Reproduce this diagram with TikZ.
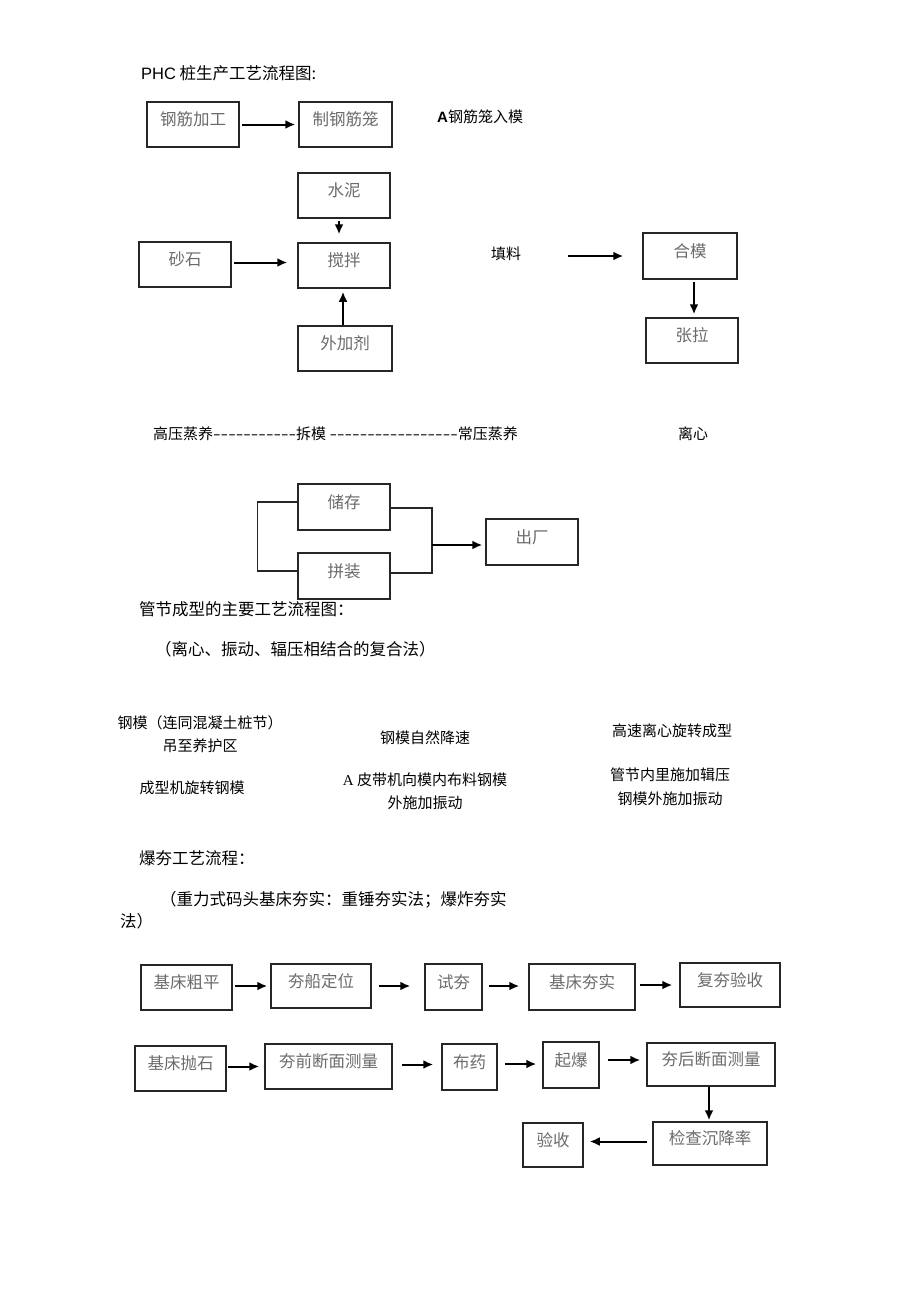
\documentclass[tikz,border=0pt]{standalone}
\usepackage{graphicx}
\usepackage{fontspec}
\setmainfont{Noto Sans CJK SC}
\newfontfamily\arialfont{Liberation Sans}
\newfontfamily\timesfont{Liberation Serif}
\newfontfamily\dashfont{Noto Sans CJK SC}[Ligatures=TeXOff]
\usepackage{tikz}
\usetikzlibrary{
    calc,
    arrows.meta,
    positioning
}
\newcommand\hdfont{\fontsize{16.5}{22}\selectfont}
\newcommand\notefont{\fontsize{15}{23.5}\selectfont}
\newcommand\boxfont{\fontsize{16.5}{16.5}\selectfont}
\newcommand\longdash[1]{\scalebox{1.45}[1]{\dashfont #1}}
\tikzset{
    box/.style={draw=black!85, line width=1.5pt, inner sep=0pt,
        minimum width=92pt, minimum height=45pt,
        text=black!58, font=\boxfont, text height=12pt, text depth=10pt},
    note/.style={inner sep=0pt, font=\notefont, align=center},
    hd/.style={inner sep=0pt, font=\hdfont, anchor=west, align=left},
    flow/.style={->, line width=2pt, shorten <=2pt, shorten >=3pt},
    link/.style={line width=1.5pt, black!85},
    >={Latex[length=10pt,width=9pt]}
}

\begin{document}
\begin{tikzpicture}[x=1pt,y=-1pt]
    \useasboundingbox[fill=white] (0,0) rectangle (920,1301);

    % PHC pile
    \draw (141,73) node[hd](t1){{\arialfont PHC} 桩生产工艺流程图:};
    \draw (193,124.5) node[box](gjjg){钢筋加工};
    \draw (345.5,124.5) node[box,minimum width=93pt](zgjl){制钢筋笼};
    \draw (437,117) node[note,anchor=west](rm){{\arialfont\bfseries A}钢筋笼入模};

    \draw (344,195.5) node[box](sn){水泥};
    \draw (185,264.5) node[box](ss){砂石};
    \draw (344,265.5) node[box](jb){搅拌};
    \draw (345,348.5) node[box,minimum width=94pt](wjj){外加剂};
    \draw (506,254) node[note](tl){填料};
    \draw (690,256) node[box,minimum width=94pt,minimum height=46pt](hm){合模};
    \draw (692,340.5) node[box](zl){张拉};

    \draw[flow] (gjjg) -- (zgjl);
    \draw[flow,shorten >=8pt] ([xshift=-5pt]sn.south) -- ([xshift=-5pt]jb.north);
    \draw[flow,shorten >=10pt] ([yshift=2pt]ss.east) -- ([yshift=2pt]ss.east -| jb.west);
    \draw[flow,shorten <=0pt] ([xshift=-2pt]wjj.north) -- ([xshift=-2pt]wjj.north |- jb.south);
    \draw[flow,shorten <=47pt,shorten >=19pt] (tl.east |- hm.west) -- (hm.west);
    \draw[flow] ([xshift=4pt]hm.south) -- ([xshift=4pt]hm.south |- zl.north);

    \draw (153,434) node[note,anchor=west](zq){高压蒸养\longdash{-----------}拆模 \longdash{-----------------}常压蒸养};
    \draw (693,434) node[note](lx){离心};

    \draw (344,507) node[box,minimum height=46pt](cc){储存};
    \draw (344,576) node[box,minimum height=46pt](pz){拼装};
    \draw (532,542) node[box,minimum height=46pt](cch){出厂};
    \coordinate (hb) at (432,545);
    \draw[link] ([yshift=5pt]cc.west) -- ++(-40,0) |- ([yshift=5pt]pz.west);
    \draw[link] ([yshift=-1pt]cc.east) -| (hb) |- ([yshift=3pt]pz.east);
    \draw[flow,shorten <=0pt] (hb) -- (hb -| cch.west);

    % pipe section forming
    \draw (139,609) node[hd](t2){管节成型的主要工艺流程图：};
    \draw (155,649) node[hd](t2b){（离心、振动、辐压相结合的复合法）};
    \draw (200,734) node[note](gm1){钢模（连同混凝土桩节）\\吊至养护区};
    \draw (425,738) node[note](gm2){钢模自然降速};
    \draw (672,731) node[note](gm3){高速离心旋转成型};
    \draw (192,788) node[note](gm4){成型机旋转钢模};
    \draw (425,791.5) node[note](gm5){{\timesfont A} 皮带机向模内布料钢模\\外施加振动};
    \draw (670,787) node[note](gm6){管节内里施加辑压\\钢模外施加振动};

    % blast compaction
    \draw (139,858) node[hd](t3){爆夯工艺流程：};
    \draw (120,910) node[hd](t3b){\hspace*{40pt}（重力式码头基床夯实：重锤夯实法；爆炸夯实\\法）};

    \draw (186.5,987.5) node[box,minimum width=91pt](jccp){基床粗平};
    \draw (321,986) node[box,minimum width=100pt,minimum height=44pt](hcdw){夯船定位};
    \draw (453.5,987) node[box,minimum width=57pt,minimum height=46pt](sh){试夯};
    \draw (582,987) node[box,minimum width=106pt,minimum height=46pt](jchs){基床夯实};
    \draw (730,985) node[box,minimum width=100pt,minimum height=44pt](fhys){复夯验收};

    \draw[flow] (jccp.east |- hcdw.west) -- (hcdw.west);
    \draw[flow,shorten <=7pt,shorten >=14pt] (hcdw.east) -- (hcdw.east -| sh.west);
    \draw[flow,shorten <=6pt,shorten >=9pt] (sh.east |- hcdw.east) -- (hcdw.east -| jchs.west);
    \draw[flow,shorten <=4pt,shorten >=7pt] (jchs.east |- fhys.west) -- (fhys.west);

    \draw (180.5,1068.5) node[box,minimum width=91pt](jcps){基床抛石};
    \draw (328.5,1066.5) node[box,minimum width=127pt](hqdm){夯前断面测量};
    \draw (469.5,1067) node[box,minimum width=55pt,minimum height=46pt](by){布药};
    \draw (571,1065) node[box,minimum width=56pt,minimum height=46pt](qb){起爆};
    \draw (711,1064.5) node[box,minimum width=128pt,minimum height=43pt](hhdm){夯后断面测量};
    \draw (710,1143.5) node[box,minimum width=114pt,minimum height=43pt](jccj){检查沉降率};
    \draw (553,1145) node[box,minimum width=60pt,minimum height=44pt](ys){验收};

    \draw[flow,shorten <=1pt,shorten >=5pt] (jcps.east |- hqdm.west) -- (hqdm.west);
    \draw[flow,shorten <=9pt,shorten >=8pt] ([yshift=2pt]hqdm.east) -- ([yshift=2pt]hqdm.east -| by.west);
    \draw[flow,shorten <=7pt,shorten >=6pt] ([yshift=3pt]by.east) -- ([yshift=3pt]by.east -| qb.west);
    \draw[flow,shorten <=8pt,shorten >=6pt] ([yshift=5pt]qb.east) -- ([yshift=5pt]qb.east -| hhdm.west);
    \draw[flow,shorten <=0pt,shorten >=1pt] ([xshift=-2pt]hhdm.south) -- ([xshift=-2pt]hhdm.south |- jccj.north);
    \draw[flow,shorten <=5pt,shorten >=6pt] ([yshift=2pt]jccj.west) -- ([yshift=2pt]jccj.west -| ys.east);
\end{tikzpicture}
\end{document}
